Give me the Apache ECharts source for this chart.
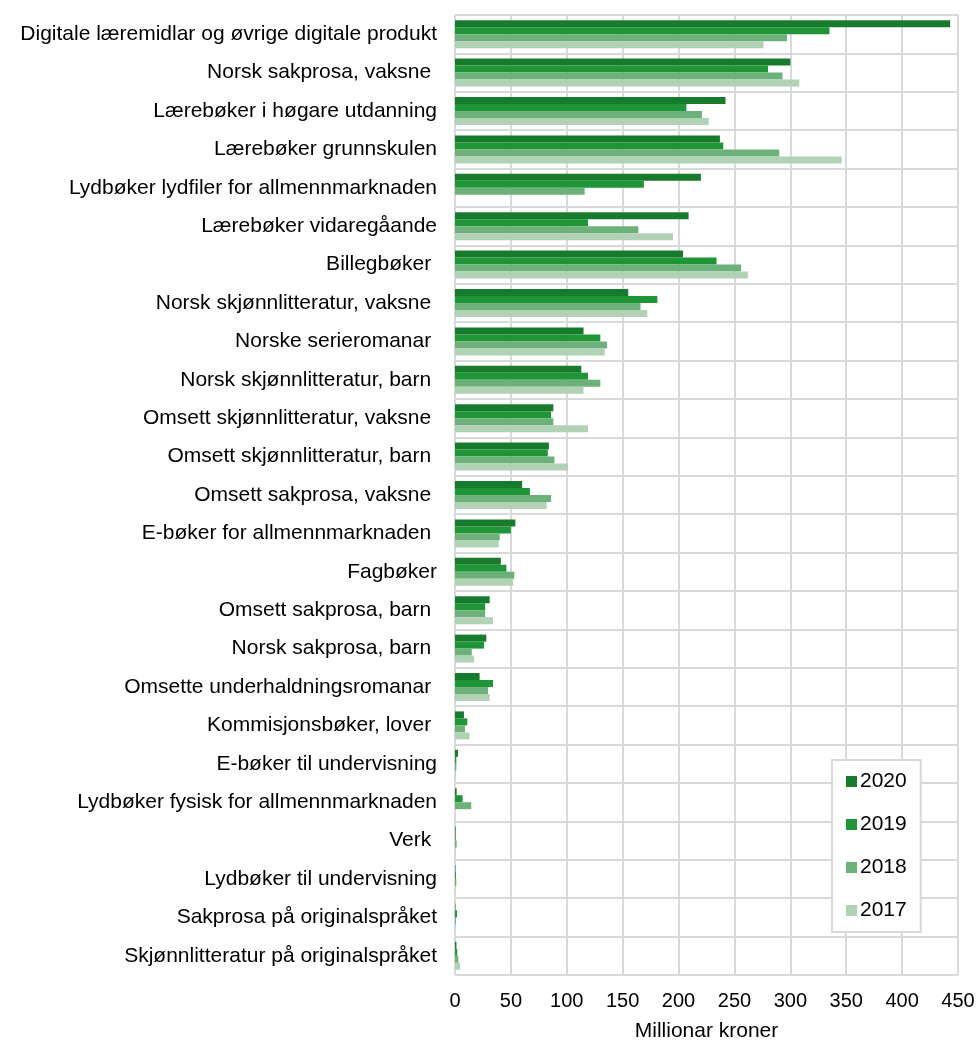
<!DOCTYPE html>
<html>
<head>
<meta charset="utf-8">
<script src="https://cdn.jsdelivr.net/npm/echarts@6/dist/echarts.min.js"></script>
<style>
html,body{margin:0;padding:0;background:#fff;}
#chart{width:979px;height:1041px;}
</style>
</head>
<body>
<div id="chart"></div>
<script>
const categories = [
  "Digitale læremidlar og øvrige digitale produkt",
  "Norsk sakprosa, vaksne ",
  "Lærebøker i høgare utdanning",
  "Lærebøker grunnskulen",
  "Lydbøker lydfiler for allmennmarknaden",
  "Lærebøker vidaregåande",
  "Billegbøker ",
  "Norsk skjønnlitteratur, vaksne ",
  "Norske serieromanar ",
  "Norsk skjønnlitteratur, barn ",
  "Omsett skjønnlitteratur, vaksne ",
  "Omsett skjønnlitteratur, barn ",
  "Omsett sakprosa, vaksne ",
  "E-bøker for allmennmarknaden ",
  "Fagbøker",
  "Omsett sakprosa, barn ",
  "Norsk sakprosa, barn ",
  "Omsette underhaldningsromanar ",
  "Kommisjonsbøker, lover ",
  "E-bøker til undervisning",
  "Lydbøker fysisk for allmennmarknaden",
  "Verk ",
  "Lydbøker til undervisning",
  "Sakprosa på originalspråket",
  "Skjønnlitteratur på originalspråket"
];
const seriesNames = ["2020", "2019", "2018", "2017"];
const values2020 = [443, 300, 242, 237, 220, 209, 204, 155, 115, 113, 88, 84, 60, 54, 41, 31, 28, 22, 8, 2.7, 1.5, 0.6, 0.4, 0.4, 1.3];
const values2019 = [335, 280, 207, 240, 169, 119, 234, 181, 130, 119, 86, 83, 67, 50, 46, 27, 26, 34, 11, 1.2, 6.8, 0.6, 0.8, 1.8, 2];
const values2018 = [297, 293, 221, 290, 116, 164, 256, 166, 136, 130, 88, 89, 86, 40, 53, 27, 15, 29.5, 9, 1.2, 14.5, 1.5, 1.2, 0.8, 3];
const values2017 = [276, 308, 227, 346, 0, 195, 262, 172, 134, 115, 119, 101, 82, 39, 52, 34, 17, 31, 13, 0.8, 0, 0.4, 0.4, 0.4, 4.5];
const xTicks = { min: 0, max: 450, interval: 50 };
const colors = ["#187a2c", "#1e9537", "#6cb17a", "#b1d2b5"];

const allValues = [values2020, values2019, values2018, values2017];
const font = "Liberation Sans, Arial, sans-serif";

const chart = echarts.init(document.getElementById('chart'), null, { renderer: 'canvas' });
chart.setOption({
  animation: false,
  backgroundColor: '#fff',
  grid: { left: 455, right: 21, top: 15, bottom: 66, containLabel: false, outerBoundsMode: 'none' },
  legend: {
    orient: 'vertical',
    left: 832,
    top: 760,
    data: seriesNames,
    icon: 'rect',
    itemWidth: 11,
    itemHeight: 11,
    itemGap: 22,
    padding: [11, 14, 11, 14],
    backgroundColor: '#fff',
    borderColor: '#d9d9d9',
    borderWidth: 2,
    textStyle: { fontFamily: font, fontSize: 21, color: '#000', padding: [0, 0, 0, -2] }
  },
  xAxis: {
    type: 'value',
    min: xTicks.min,
    max: xTicks.max,
    interval: xTicks.interval,
    name: 'Millionar kroner',
    nameLocation: 'middle',
    nameGap: 46,
    nameTextStyle: { fontFamily: font, fontSize: 21, color: '#000' },
    axisLine: { show: false },
    axisTick: { show: false },
    axisLabel: { fontFamily: font, fontSize: 20, color: '#000', margin: 16 },
    splitLine: { show: true, lineStyle: { color: '#d9d9d9', width: 2 } }
  },
  yAxis: {
    type: 'category',
    data: categories,
    inverse: true,
    axisLine: { show: false },
    axisTick: { show: false },
    axisLabel: { fontFamily: font, fontSize: 21, color: '#000', margin: 18, interval: 0 },
    splitLine: { show: true, interval: 0, lineStyle: { color: '#d9d9d9', width: 2 } }
  },
  series: seriesNames.map((n, i) => ({
    name: n,
    type: 'bar',
    data: allValues[i],
    barWidth: 7,
    barGap: '0%',
    itemStyle: { color: colors[i] }
  }))
});
</script>
</body>
</html>
